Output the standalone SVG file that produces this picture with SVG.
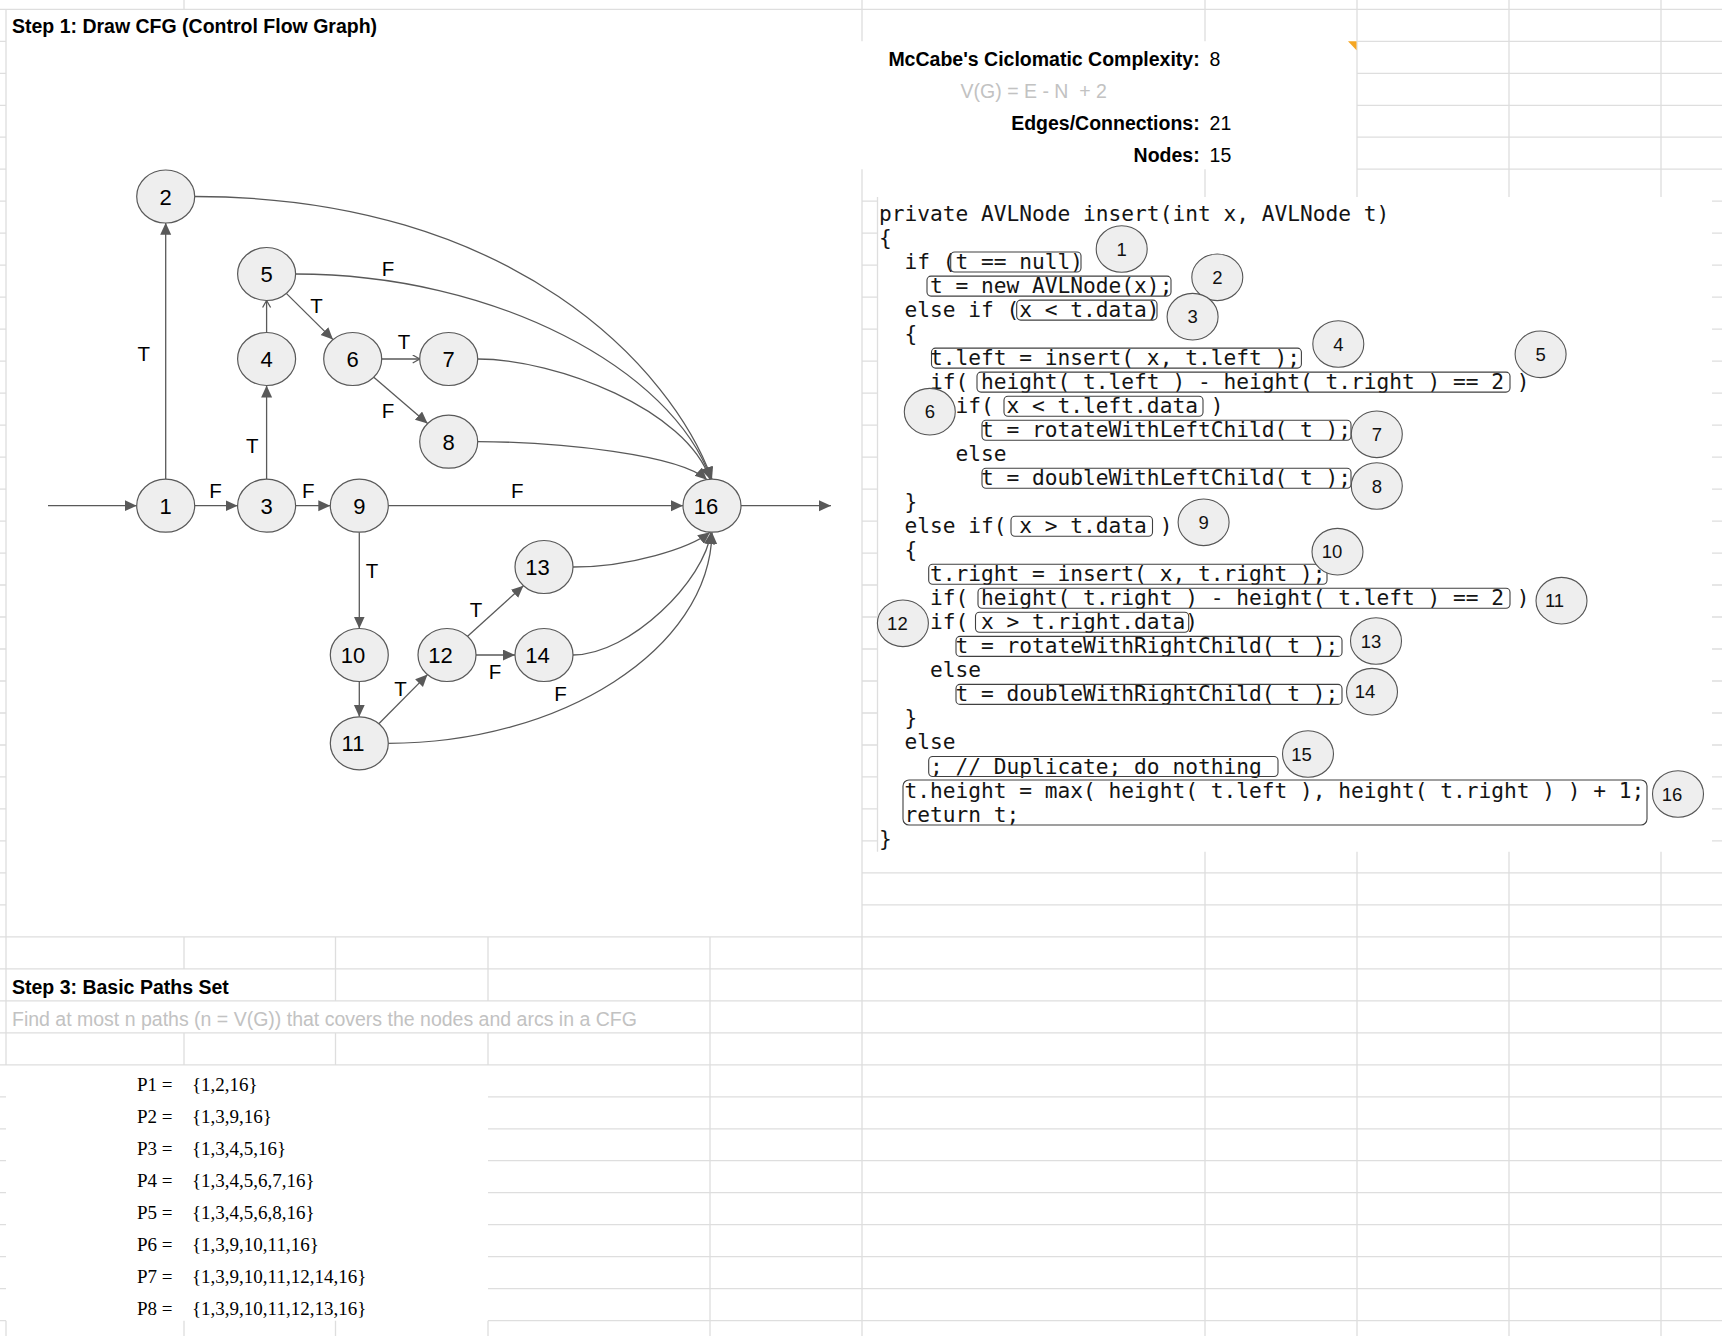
<svg xmlns="http://www.w3.org/2000/svg" width="1722" height="1336" viewBox="0 0 1722 1336">
<style>
.grid{stroke:#dedede;stroke-width:1.3;fill:none}
.title{font-family:"Liberation Sans",Arial,sans-serif;font-weight:bold;font-size:19.5px;fill:#000}
.val{font-family:"Liberation Sans",Arial,sans-serif;font-size:19.5px;fill:#000}
.hint{font-family:"Liberation Sans",Arial,sans-serif;font-size:19.5px;fill:#c2c2c2;white-space:pre}
.node ellipse{fill:#eeeeee;stroke:#595959;stroke-width:1.2}
.node text{font-family:"Liberation Sans",Arial,sans-serif;font-size:22px;text-anchor:middle;fill:#000}
.edge{stroke:#595959;stroke-width:1.3;fill:none}
.elbl{font-family:"Liberation Sans",Arial,sans-serif;font-size:20.5px;fill:#000;text-anchor:middle}
.code{font-family:"DejaVu Sans Mono",monospace;font-size:21.2px;fill:#141414;white-space:pre}
.box{fill:none;stroke:#404040;stroke-width:1.1}
.num ellipse{fill:#eeeeee;stroke:#555;stroke-width:1.1}
.num text{font-family:"Liberation Sans",Arial,sans-serif;font-size:18.5px;text-anchor:middle;fill:#111}
.pth{font-family:"Liberation Serif","Times New Roman",serif;font-size:19px;fill:#000}
</style>
<defs>
<marker id="ah" markerUnits="userSpaceOnUse" markerWidth="13" markerHeight="12" refX="12" refY="5.5" orient="auto"><path d="M0,0 L12,5.5 L0,11 z" fill="#595959"/></marker>
<marker id="ao" markerUnits="userSpaceOnUse" markerWidth="10" markerHeight="10" refX="7.5" refY="4.5" orient="auto"><path d="M0.5,0.5 L7.5,4.5 L0.5,8.5" fill="none" stroke="#595959" stroke-width="1.3"/></marker>
</defs>
<rect x="0" y="0" width="1722" height="1336" fill="#ffffff"/>

<g id="grid" class="grid">
<path d="M0,9.3H1722
M0,41.3H6 M1357,41.3H1722 M0,73.3H6 M1357,73.3H1722 M0,105.3H6 M1357,105.3H1722 M0,137.2H6 M1357,137.2H1722 M0,169.2H6 M1357,169.2H1722
M0,201.2H6 M862,201.2H877.5 M1712,201.2H1722
M0,233.2H6 M862,233.2H877.5 M1712,233.2H1722
M0,265.2H6 M862,265.2H877.5 M1712,265.2H1722
M0,297.2H6 M862,297.2H877.5 M1712,297.2H1722
M0,329.2H6 M862,329.2H877.5 M1712,329.2H1722
M0,361.1H6 M862,361.1H877.5 M1712,361.1H1722
M0,393.1H6 M862,393.1H877.5 M1712,393.1H1722
M0,425.1H6 M862,425.1H877.5 M1712,425.1H1722
M0,457.1H6 M862,457.1H877.5 M1712,457.1H1722
M0,489.1H6 M862,489.1H877.5 M1712,489.1H1722
M0,521.1H6 M862,521.1H877.5 M1712,521.1H1722
M0,553.1H6 M862,553.1H877.5 M1712,553.1H1722
M0,585H6 M862,585H877.5 M1712,585H1722
M0,617H6 M862,617H877.5 M1712,617H1722
M0,649H6 M862,649H877.5 M1712,649H1722
M0,681H6 M862,681H877.5 M1712,681H1722
M0,713H6 M862,713H877.5 M1712,713H1722
M0,745H6 M862,745H877.5 M1712,745H1722
M0,776.9H6 M862,776.9H877.5 M1712,776.9H1722
M0,808.9H6 M862,808.9H877.5 M1712,808.9H1722
M0,840.9H6 M862,840.9H877.5 M1712,840.9H1722
M0,872.9H6 M862,872.9H1722
M0,904.9H6 M862,904.9H1722
M0,936.9H1722 M0,968.9H1722 M0,1000.8H1722 M0,1032.8H1722 M0,1064.8H1722
M0,1096.8H6 M488,1096.8H1722
M0,1128.8H6 M488,1128.8H1722
M0,1160.7H6 M488,1160.7H1722
M0,1192.7H6 M488,1192.7H1722
M0,1224.7H6 M488,1224.7H1722
M0,1256.7H6 M488,1256.7H1722
M0,1288.7H6 M488,1288.7H1722
M0,1320.7H6 M488,1320.7H1722
M6,9.3V1064.8 M6,1320.7V1336
M184,0V9.3 M184,936.9V968.9 M184,1032.8V1064.8 M184,1320.7V1336
M335.5,936.9V1000.8 M335.5,1032.8V1064.8 M335.5,1320.7V1336
M488,936.9V1000.8 M488,1032.8V1064.8 M488,1320.7V1336
M710,936.9V1336
M862,0V41.3 M862,169.2V1336
M877.5,197V851.7
M1205,0V41.3 M1205,169.2V197 M1205,851.7V1336
M1357,0V197 M1357,851.7V1336
M1509,0V197 M1509,851.7V1336
M1661,0V197 M1661,851.7V1336"/>
</g>

<text class="title" x="12" y="32.7">Step 1: Draw CFG (Control Flow Graph)</text>

<g id="connectors">
<path class="edge" d="M48,505.7 L136.7,505.7" marker-end="url(#ah)"/>
<path class="edge" d="M741,505.7 L831,505.7" marker-end="url(#ah)"/>
<path class="edge" d="M165.7,479.2 L165.7,222.8" marker-end="url(#ah)"/>
<path class="edge" d="M194.7,505.7 L237.6,505.7" marker-end="url(#ah)"/>
<path class="edge" d="M295.6,505.7 L330.3,505.7" marker-end="url(#ah)"/>
<path class="edge" d="M388.3,505.7 L683,505.7" marker-end="url(#ah)"/>
<path class="edge" d="M266.6,479.2 L266.6,385.5" marker-end="url(#ah)"/>
<path class="edge" d="M266.6,332.5 L266.6,300.5" marker-end="url(#ao)"/>
<path class="edge" d="M286.3,293.4 L333,339.6" marker-end="url(#ah)"/>
<path class="edge" d="M381.7,359 L419.7,359" marker-end="url(#ao)"/>
<path class="edge" d="M373.8,377.2 L427.6,423.5" marker-end="url(#ah)"/>
<path class="edge" d="M359.3,532.2 L359.3,628.5" marker-end="url(#ah)"/>
<path class="edge" d="M359.3,681.5 L359.3,716.8" marker-end="url(#ah)"/>
<path class="edge" d="M378.8,723.7 L427.5,674.6" marker-end="url(#ah)"/>
<path class="edge" d="M467.6,636.3 L523.4,585.7" marker-end="url(#ah)"/>
<path class="edge" d="M476,655 L515,655" marker-end="url(#ah)"/>
<path class="edge" d="M194.7,196.5 C515,196.5 672,369 712,479.2" marker-end="url(#ah)"/>
<path class="edge" d="M295.6,274 C495,274 672,369 711,479.2" marker-end="url(#ah)"/>
<path class="edge" d="M477.7,359 C557,359 687,410 710,479.3" marker-end="url(#ah)"/>
<path class="edge" d="M477.7,441.7 C560,441.7 680,455 707,479.8" marker-end="url(#ah)"/>
<path class="edge" d="M573,567 C630,567 690,548 710,532.2" marker-end="url(#ah)"/>
<path class="edge" d="M573,655 C630,655 705,580 711,532.2" marker-end="url(#ah)"/>
<path class="edge" d="M388.3,743.3 C560,743.3 710,650 712,532.2" marker-end="url(#ah)"/>
<text class="elbl" x="143.7" y="360.5">T</text>
<text class="elbl" x="388" y="275.5">F</text>
<text class="elbl" x="316.5" y="312.5">T</text>
<text class="elbl" x="404" y="349">T</text>
<text class="elbl" x="388" y="417.5">F</text>
<text class="elbl" x="252.3" y="452.5">T</text>
<text class="elbl" x="215.6" y="497.5">F</text>
<text class="elbl" x="308.3" y="497.5">F</text>
<text class="elbl" x="517.3" y="497.5">F</text>
<text class="elbl" x="372" y="577.5">T</text>
<text class="elbl" x="476" y="616.5">T</text>
<text class="elbl" x="495" y="679">F</text>
<text class="elbl" x="400.4" y="695.5">T</text>
<text class="elbl" x="560.6" y="700.5">F</text>
</g>

<g id="n1" class="node"><ellipse cx="165.7" cy="505.7" rx="29" ry="26.5"/><text x="165.7" y="513.7">1</text></g>
<g id="n2" class="node"><ellipse cx="165.7" cy="196.5" rx="29" ry="26.5"/><text x="165.7" y="204.5">2</text></g>
<g id="n3" class="node"><ellipse cx="266.6" cy="505.7" rx="29" ry="26.5"/><text x="266.6" y="513.7">3</text></g>
<g id="n4" class="node"><ellipse cx="266.6" cy="359" rx="29" ry="26.5"/><text x="266.6" y="367">4</text></g>
<g id="n5" class="node"><ellipse cx="266.6" cy="274" rx="29" ry="26.5"/><text x="266.6" y="282">5</text></g>
<g id="n6" class="node"><ellipse cx="352.7" cy="359" rx="29" ry="26.5"/><text x="352.7" y="367">6</text></g>
<g id="n7" class="node"><ellipse cx="448.7" cy="359" rx="29" ry="26.5"/><text x="448.7" y="367">7</text></g>
<g id="n8" class="node"><ellipse cx="448.7" cy="441.7" rx="29" ry="26.5"/><text x="448.7" y="449.7">8</text></g>
<g id="n9" class="node"><ellipse cx="359.3" cy="505.7" rx="29" ry="26.5"/><text x="359.3" y="513.7">9</text></g>
<g id="n10" class="node"><ellipse cx="359.3" cy="655" rx="29" ry="26.5"/><text x="353" y="663">10</text></g>
<g id="n11" class="node"><ellipse cx="359.3" cy="743.3" rx="29" ry="26.5"/><text x="353" y="751.3">11</text></g>
<g id="n12" class="node"><ellipse cx="447" cy="655" rx="29" ry="26.5"/><text x="440.5" y="663">12</text></g>
<g id="n13" class="node"><ellipse cx="544" cy="567" rx="29" ry="26.5"/><text x="537.5" y="575">13</text></g>
<g id="n14" class="node"><ellipse cx="544" cy="655" rx="29" ry="26.5"/><text x="537.5" y="663">14</text></g>
<g id="n16" class="node"><ellipse cx="712" cy="505.7" rx="29" ry="26.5"/><text x="706" y="513.7">16</text></g>

<g id="metrics">
<path d="M1348,41.3 L1356.5,41.3 L1356.5,50.3 z" fill="#f5a623"/>
<text class="title" x="1199.7" y="66.3" text-anchor="end">McCabe's Ciclomatic Complexity:</text>
<text class="val" x="1209.6" y="66.3">8</text>
<text class="hint" x="960.6" y="97.7">V(G) = E - N  + 2</text>
<text class="title" x="1199.7" y="130" text-anchor="end">Edges/Connections:</text>
<text class="val" x="1209.6" y="130">21</text>
<text class="title" x="1199.7" y="161.7" text-anchor="end">Nodes:</text>
<text class="val" x="1209.6" y="161.7">15</text>
</g>

<g id="code">
<text class="code" x="879" y="221">private AVLNode insert(int x, AVLNode t)</text>
<text class="code" x="879" y="245">{</text>
<text class="code" x="879" y="269">  if (t == null)</text>
<text class="code" x="879" y="293.1">    t = new AVLNode(x);</text>
<text class="code" x="879" y="317.1">  else if (x &lt; t.data)</text>
<text class="code" x="879" y="341.1">  {</text>
<text class="code" x="879" y="365.1">    t.left = insert( x, t.left );</text>
<text class="code" x="879" y="389.1">    if( height( t.left ) - height( t.right ) == 2 )</text>
<text class="code" x="879" y="413.2">      if( x &lt; t.left.data )</text>
<text class="code" x="879" y="437.2">        t = rotateWithLeftChild( t );</text>
<text class="code" x="879" y="461.2">      else</text>
<text class="code" x="879" y="485.2">        t = doubleWithLeftChild( t );</text>
<text class="code" x="879" y="509.2">  }</text>
<text class="code" x="879" y="533.3">  else if( x &gt; t.data )</text>
<text class="code" x="879" y="557.3">  {</text>
<text class="code" x="879" y="581.3">    t.right = insert( x, t.right );</text>
<text class="code" x="879" y="605.3">    if( height( t.right ) - height( t.left ) == 2 )</text>
<text class="code" x="879" y="629.3">    if( x &gt; t.right.data)</text>
<text class="code" x="879" y="653.4">      t = rotateWithRightChild( t );</text>
<text class="code" x="879" y="677.4">    else</text>
<text class="code" x="879" y="701.4">      t = doubleWithRightChild( t );</text>
<text class="code" x="879" y="725.4">  }</text>
<text class="code" x="879" y="749.4">  else</text>
<text class="code" x="879" y="773.5">    ; // Duplicate; do nothing</text>
<text class="code" x="879" y="797.5">  t.height = max( height( t.left ), height( t.right ) ) + 1;</text>
<text class="code" x="879" y="821.5">  return t;</text>
<text class="code" x="879" y="845.5">}</text>
<rect class="box" x="950.7" y="252" width="130.3" height="20" rx="4"/>
<rect class="box" x="927" y="276.1" width="244" height="20" rx="4"/>
<rect class="box" x="1016.7" y="300.1" width="140.3" height="20" rx="4"/>
<rect class="box" x="931.5" y="348.1" width="369.9" height="20" rx="4"/>
<rect class="box" x="977" y="372.1" width="533" height="20" rx="4"/>
<rect class="box" x="1004" y="396.2" width="199" height="20" rx="4"/>
<rect class="box" x="982" y="420.2" width="369" height="20" rx="4"/>
<rect class="box" x="982" y="468.2" width="369" height="20" rx="4"/>
<rect class="box" x="1011" y="516.3" width="141.5" height="20" rx="4"/>
<rect class="box" x="928.7" y="564.3" width="398.3" height="20" rx="4"/>
<rect class="box" x="978" y="588.3" width="532" height="20" rx="4"/>
<rect class="box" x="975.5" y="612.3" width="213.2" height="20" rx="4"/>
<rect class="box" x="956" y="636.4" width="386" height="20" rx="4"/>
<rect class="box" x="956" y="684.4" width="386" height="20" rx="4"/>
<rect class="box" x="928.7" y="756.5" width="349.3" height="20" rx="4"/>
<rect class="box" x="903" y="780" width="744" height="45" rx="6"/>
</g>

<g id="code-numbers">
<g class="num"><ellipse cx="1121.7" cy="249" rx="25.5" ry="23.3"/><text x="1121.7" y="255.6">1</text></g>
<g class="num"><ellipse cx="1217.3" cy="277.3" rx="25.5" ry="23.3"/><text x="1217.3" y="283.9">2</text></g>
<g class="num"><ellipse cx="1192.6" cy="316.7" rx="25.5" ry="23.3"/><text x="1192.6" y="323.3">3</text></g>
<g class="num"><ellipse cx="1338.3" cy="344" rx="25.5" ry="23.3"/><text x="1338.3" y="350.6">4</text></g>
<g class="num"><ellipse cx="1540.6" cy="354.3" rx="25.5" ry="23.3"/><text x="1540.6" y="360.9">5</text></g>
<g class="num"><ellipse cx="929.8" cy="411.7" rx="25.5" ry="23.3"/><text x="929.8" y="418.3">6</text></g>
<g class="num"><ellipse cx="1376.8" cy="434.3" rx="25.5" ry="23.3"/><text x="1376.8" y="440.9">7</text></g>
<g class="num"><ellipse cx="1376.8" cy="486" rx="25.5" ry="23.3"/><text x="1376.8" y="492.6">8</text></g>
<g class="num"><ellipse cx="1203.6" cy="522.3" rx="25.5" ry="23.3"/><text x="1203.6" y="528.9">9</text></g>
<g class="num"><ellipse cx="1337.5" cy="551.7" rx="25.5" ry="23.3"/><text x="1332" y="558.3">10</text></g>
<g class="num"><ellipse cx="1561.5" cy="600.7" rx="25.5" ry="23.3"/><text x="1554.5" y="607.3">11</text></g>
<g class="num"><ellipse cx="902.9" cy="623.3" rx="25.5" ry="23.3"/><text x="897.4" y="629.9">12</text></g>
<g class="num"><ellipse cx="1376" cy="641" rx="25.5" ry="23.3"/><text x="1371" y="647.6">13</text></g>
<g class="num"><ellipse cx="1372" cy="691.7" rx="25.5" ry="23.3"/><text x="1365" y="698.3">14</text></g>
<g class="num"><ellipse cx="1308" cy="754" rx="25.5" ry="23.3"/><text x="1301.5" y="760.6">15</text></g>
<g class="num"><ellipse cx="1678" cy="794" rx="25.5" ry="23.3"/><text x="1672" y="800.6">16</text></g>
</g>

<g id="paths">
<text class="title" x="12" y="994.3">Step 3: Basic Paths Set</text>
<text class="hint" x="12" y="1025.7">Find at most n paths (n = V(G)) that covers the nodes and arcs in a CFG</text>
<text class="pth" x="137" y="1090.7">P1 =</text><text class="pth" x="192" y="1090.7">{1,2,16}</text>
<text class="pth" x="137" y="1122.7">P2 =</text><text class="pth" x="192" y="1122.7">{1,3,9,16}</text>
<text class="pth" x="137" y="1154.7">P3 =</text><text class="pth" x="192" y="1154.7">{1,3,4,5,16}</text>
<text class="pth" x="137" y="1186.6">P4 =</text><text class="pth" x="192" y="1186.6">{1,3,4,5,6,7,16}</text>
<text class="pth" x="137" y="1218.6">P5 =</text><text class="pth" x="192" y="1218.6">{1,3,4,5,6,8,16}</text>
<text class="pth" x="137" y="1250.6">P6 =</text><text class="pth" x="192" y="1250.6">{1,3,9,10,11,16}</text>
<text class="pth" x="137" y="1282.6">P7 =</text><text class="pth" x="192" y="1282.6">{1,3,9,10,11,12,14,16}</text>
<text class="pth" x="137" y="1314.6">P8 =</text><text class="pth" x="192" y="1314.6">{1,3,9,10,11,12,13,16}</text>
</g>
</svg>
